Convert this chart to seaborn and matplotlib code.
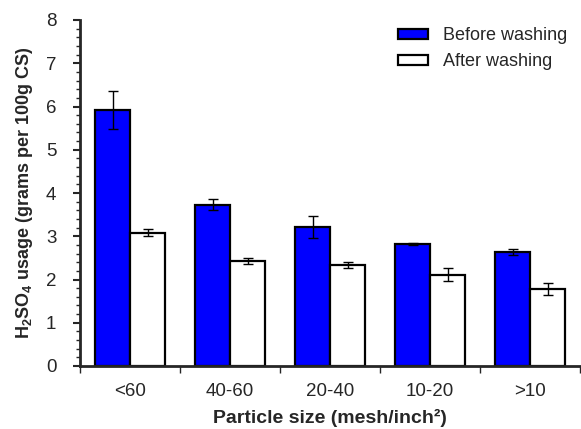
import matplotlib
matplotlib.use("Agg")
import matplotlib.pyplot as plt
from matplotlib.ticker import MultipleLocator
import seaborn as sns
import pandas as pd
import numpy as np

categories = ["<60", "40-60", "20-40", "10-20", ">10"]
before = [5.92, 3.73, 3.21, 2.82, 2.64]
before_err = [0.43, 0.12, 0.25, 0.03, 0.07]
after = [3.08, 2.42, 2.33, 2.11, 1.78]
after_err = [0.08, 0.07, 0.07, 0.15, 0.13]
series = ["Before washing", "After washing"]

sns.set_style("ticks")
plt.rcParams['font.family'] = ['Liberation Sans', 'DejaVu Sans']
plt.rcParams['mathtext.fontset'] = 'custom'
plt.rcParams['mathtext.rm'] = 'Liberation Sans'
plt.rcParams['mathtext.bf'] = 'Liberation Sans:bold'

df = pd.DataFrame({
    "cat": categories * 2,
    "val": before + after,
    "err": before_err + after_err,
    "series": [series[0]] * 5 + [series[1]] * 5,
})

fig = plt.figure(figsize=(5.81, 4.29), dpi=100)
ax = fig.add_axes([80/581, 1-366/429, 500/581, (366-20)/429])
sns.barplot(data=df, x="cat", y="val", hue="series", order=categories,
            hue_order=series, palette={series[0]: "#0000FF", series[1]: "#FFFFFF"},
            edgecolor="black", linewidth=1.6, width=0.7, errorbar=None,
            saturation=1, ax=ax)

# error bars
for container, errs in zip(ax.containers, [before_err, after_err]):
    xs = [p.get_x() + p.get_width()/2 for p in container]
    ys = [p.get_height() for p in container]
    ax.errorbar(xs, ys, yerr=errs, fmt="none", ecolor="black", elinewidth=1,
                capsize=3.5, capthick=1)

ax.set_xlim(-0.5, 4.5)
ax.set_ylim(0, 8)
ax.yaxis.set_major_locator(MultipleLocator(1))
ax.yaxis.set_minor_locator(MultipleLocator(0.2))
ax.set_xticks(np.arange(-0.5, 4.6, 1), minor=True)
ax.set_xticks(range(5))
ax.set_xticklabels(categories)
ax.tick_params(axis="x", which="major", length=0, labelsize=13.5, pad=12)
ax.tick_params(axis="x", which="minor", length=5, width=1)
ax.tick_params(axis="y", which="major", length=5, width=1.5, labelsize=13.5, pad=12)
ax.tick_params(axis="y", which="minor", length=3, width=1)
for s in ["top", "right"]:
    ax.spines[s].set_visible(False)
ax.spines["left"].set_linewidth(2)
ax.spines["bottom"].set_linewidth(2)

ax.set_xlabel("Particle size (mesh/inch²)", fontsize=14, fontweight="bold", labelpad=7)
ax.set_ylabel(r"H$_\mathbf{2}$SO$_\mathbf{4}$ usage (grams per 100g CS)", fontsize=13,
              fontweight="bold", labelpad=8)

leg = ax.legend(loc="upper right", frameon=False, fontsize=13, handlelength=1.65,
                handleheight=0.4, handletextpad=0.85, labelspacing=0.5,
                borderaxespad=0.3, bbox_to_anchor=(1.0, 1.015))
for h in leg.legend_handles:
    h.set_edgecolor("black")
    h.set_linewidth(1.6)

fig.savefig("out.png", dpi=100)
